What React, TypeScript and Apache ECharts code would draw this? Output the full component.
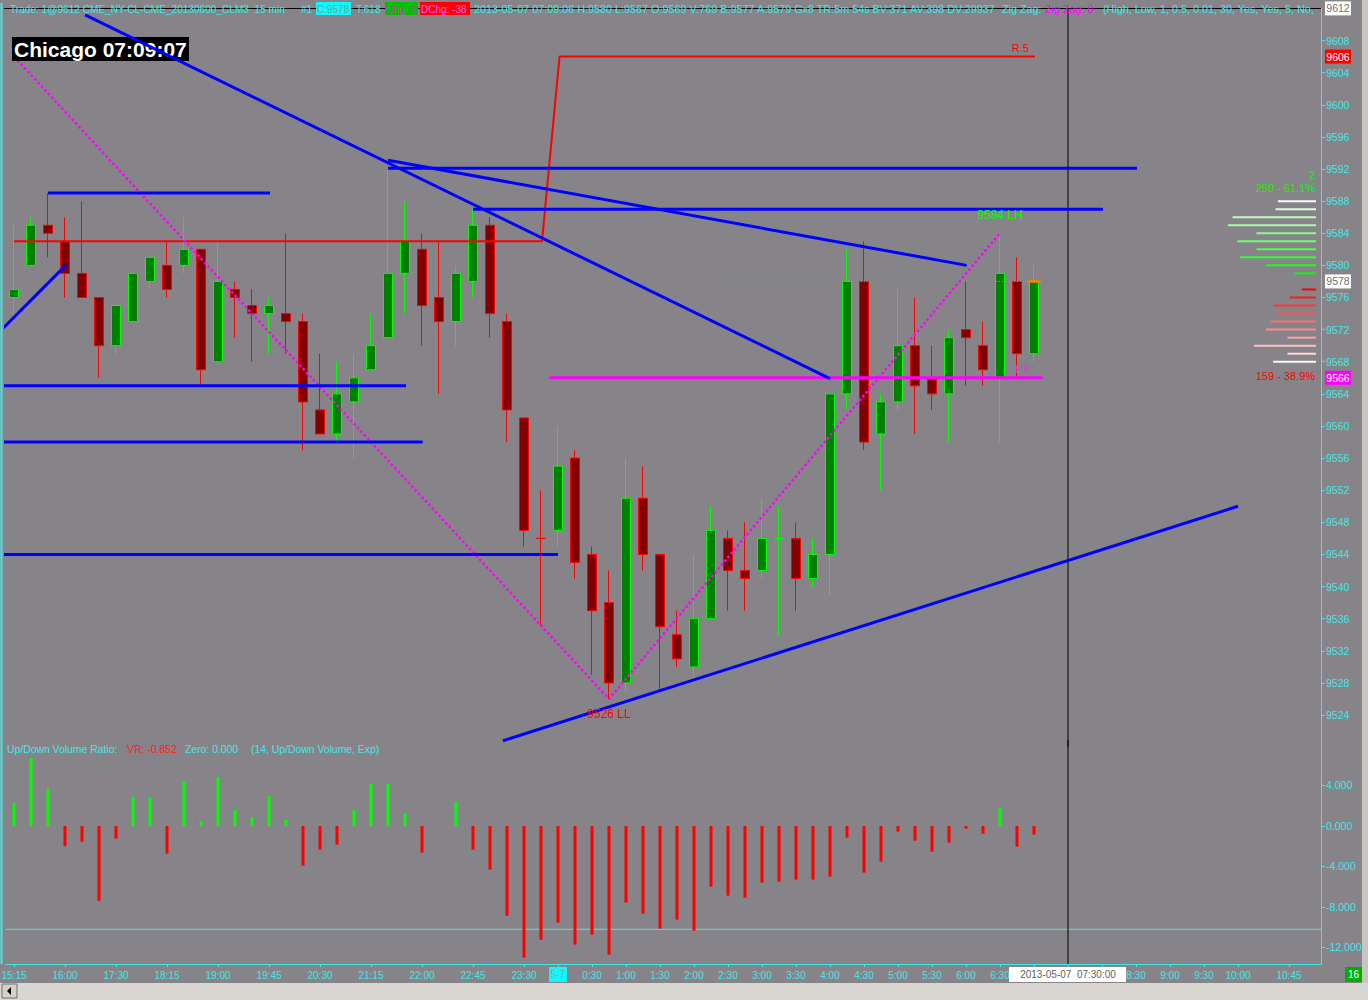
import React, { useEffect, useRef } from 'react';
import * as echarts from 'echarts';

// ---------- data ----------
const opens = [9576, 9580, 9585, 9583, 9579, 9576, 9570, 9573, 9578, 9580, 9580, 9582, 9568, 9577, 9575, 9574, 9574, 9573, 9562, 9559, 9563, 9567, 9571, 9579, 9582, 9576, 9573, 9578, 9585, 9573, 9561, 9546, 9547, 9556, 9544, 9538, 9528, 9551, 9544, 9534, 9530, 9536, 9546, 9542, 9542, 9546, 9546, 9541, 9544, 9564, 9578, 9559, 9563, 9570, 9566, 9564, 9572, 9570, 9566, 9578, 9569];
const closes = [9577, 9585, 9584, 9579, 9576, 9570, 9575, 9579, 9581, 9577, 9582, 9567, 9578, 9576, 9574, 9575, 9573, 9563, 9559, 9564, 9566, 9570, 9579, 9583, 9575, 9573, 9579, 9585, 9574, 9562, 9547, 9546, 9555, 9543, 9537, 9528, 9551, 9544, 9535, 9531, 9536, 9547, 9542, 9541, 9546, 9546, 9541, 9544, 9564, 9578, 9558, 9563, 9570, 9565, 9564, 9571, 9571, 9567, 9579, 9569, 9578];
const lows = [9573, 9580, 9581, 9576, 9576, 9566, 9569, 9573, 9577, 9576, 9579, 9565, 9568, 9571, 9568, 9569, 9569, 9557, 9559, 9558, 9556, 9567, 9571, 9574, 9570, 9564, 9570, 9576, 9571, 9558, 9545, 9535, 9545, 9541, 9529, 9526, 9527, 9542, 9527, 9530, 9528, 9536, 9537, 9537, 9541, 9534, 9537, 9540, 9539, 9562, 9557, 9552, 9562, 9559, 9562, 9558, 9565, 9565, 9558, 9566, 9568];
const highs = [9585, 9586, 9589, 9586, 9588, 9576, 9575, 9579, 9581, 9583, 9586, 9582, 9583, 9578, 9577, 9576, 9584, 9574, 9569, 9568, 9569, 9574, 9592, 9588, 9584, 9583, 9580, 9587, 9586, 9574, 9561, 9552, 9560, 9557, 9545, 9542, 9556, 9555, 9544, 9537, 9544, 9550, 9547, 9548, 9551, 9550, 9548, 9546, 9564, 9582, 9583, 9564, 9577, 9576, 9570, 9572, 9578, 9573, 9584, 9581, 9580];
const dojiColors: Record<number, string> = { 31: 'down', 45: 'up' };

const vrValues = [2.27, 6.7, 3.65, -2.0, -1.55, -7.4, -1.25, 2.86, 2.77, -2.73, 4.35, 0.5, 4.84, 1.58, 0.89, 2.96, 0.59, -3.92, -2.34, -1.84, 1.58, 4.15, 4.15, 1.19, -2.63, 0, 2.37, -2.34, -4.31, -8.86, -13.0, -11.23, -9.55, -11.72, -10.73, -12.71, -7.57, -8.66, -10.14, -9.25, -10.34, -5.99, -6.88, -7.08, -5.6, -5.5, -5.3, -5.3, -5.0, -1.15, -4.61, -3.52, -0.56, -1.45, -2.54, -1.65, -0.27, -0.76, 1.78, -2.04, -0.85];
const vrLevel = -10.2;

const tickIdx = [0, 3, 6, 9, 12, 15, 18, 21, 24, 27, 30, 32, 34, 36, 38, 40, 42, 44, 46, 48, 50, 52, 54, 56, 58, 60, 62, 64, 66, 68, 70, 72, 75];
const tickLabels = ['15:15', '16:00', '17:30', '18:15', '19:00', '19:45', '20:30', '21:15', '22:00', '22:45', '23:30', '5-7', '0:30', '1:00', '1:30', '2:00', '2:30', '3:00', '3:30', '4:00', '4:30', '5:00', '5:30', '6:00', '6:30', '7:00', '7:30', '8:00', '8:30', '9:00', '9:30', '10:00', '10:45'];
const coveredTicks = [32, 60, 62, 64];
const priceTicks = [9524, 9528, 9532, 9536, 9540, 9544, 9548, 9552, 9556, 9560, 9564, 9568, 9572, 9576, 9580, 9584, 9588, 9592, 9596, 9600, 9604, 9608];
const volTicks = [-12, -8, -4, 0, 4];

const profilePrices = [9568, 9569, 9570, 9571, 9572, 9573, 9574, 9575, 9576, 9577, 9578, 9579, 9580, 9581, 9582, 9583, 9584, 9585, 9586, 9587, 9588];
const profileVolumes = [18, 12, 26, 12, 21, 19, 16, 18, 11, 6, 0, 9, 21, 32, 25, 33, 25, 37, 35, 17, 16];
const lastPrice = 9578;

// drawings [bar index, price]
const blueLines: number[][][] = [
  [[-0.63, 9572.2], [3.04, 9580]],
  [[4.18, 9611.2], [48, 9565.9]],
  [[22, 9593.1], [56.04, 9580]],
  [[22, 9592.1], [66.06, 9592.1]],
  [[27, 9587], [64.06, 9587]],
  [[2, 9589], [15.06, 9589]],
  [[-0.63, 9565], [23.06, 9565]],
  [[-0.63, 9558], [24.04, 9558]],
  [[-0.63, 9544], [32, 9544]],
  [[28.76, 9520.8], [72, 9550]],
];
const redStep = [[0, 9583], [31.06, 9583], [32.09, 9606], [60.06, 9606]];
const ppLine = [[31.5, 9566], [60.5, 9566]];
const zigZag = [[0, 9606], [35, 9526], [58, 9584]];
const lastPriceLine = [[41, 9578], [60.5, 9578]];
const cursorIdx = 62;

const axisMarks = [
  { price: 9612, bg: '#ffffff', fg: '#707070' },
  { price: 9606, bg: '#ff0000', fg: '#ffffff' },
  { price: 9578, bg: '#ffffff', fg: '#707070' },
  { price: 9566, bg: '#ff00ff', fg: '#ffffff' },
];
const chartTexts = [
  { t: '9526 LL', x: 35, p: 9524.1, c: '#ff0000', s: 12 },
  { t: '9584 LH', x: 58, p: 9586.3, c: '#00ff00', s: 12 },
  { t: 'R.5', x: 59.2, p: 9607.1, c: '#ff0000', s: 11 },
  { t: 'PP', x: 59.35, p: 9567.1, c: '#cc44cc', s: 11 },
];
const profileTexts = [
  { t: '2', p: 9591.2, c: '#10f010' },
  { t: '250 - 61.1%', p: 9589.6, c: '#10f010' },
  { t: '159 - 38.9%', p: 9566.2, c: '#ff0000' },
];

// ---------- layout constants ----------
const BG = '#868488';
const CYAN = '#40e8e8';
const FONT = 'Liberation Sans';
const X_MIN = -0.5;
const GRID_LEFT = 5.5;
const GRID_W = 1315.5;
const BAR_PX = 17;
const X_MAX = X_MIN + GRID_W / BAR_PX;
const P_MIN = 9520;
const P_MAX = 9612;
const P_TOP = 8.4;
const P_H = 738.8;
const PPU = P_H / (P_MAX - P_MIN);
const V_TOP = 740;
const V_H = 224;
const V_MIN = -13.63;
const V_MAX = 8.49;

function mix(a: number[], b: number[], t: number) {
  const c = a.map((v, i) => Math.round(v + (b[i] - v) * t));
  return `rgb(${c[0]},${c[1]},${c[2]})`;
}

export default function App() {
  const ref = useRef<HTMLDivElement>(null);
  useEffect(() => {
    document.body.style.margin = '0';
    const chart = echarts.init(ref.current as HTMLDivElement, null, { renderer: 'svg' });

    const labelMap: Record<number, string> = {};
    tickIdx.forEach((v, i) => (labelMap[v] = tickLabels[i]));
    const labelIdx = tickIdx.filter((v) => coveredTicks.indexOf(v) < 0);

    const candleData = opens.map((o, i) => {
      const item: any = { value: [i, o, closes[i], lows[i], highs[i]] };
      if (dojiColors[i]) {
        const col = dojiColors[i] === 'up' ? '#00ff00' : '#ff0000';
        item.itemStyle = { borderColor: col, borderColor0: col, borderColorDoji: col };
      }
      return item;
    });

    const maxIdx = profilePrices.indexOf(lastPrice);
    const profileData = profileVolumes.map((v, i) => {
      let color: string;
      if (profilePrices[i] > lastPrice) {
        const k = i - maxIdx - 1;
        color = mix([0, 255, 0], [250, 250, 250], k / 9);
      } else {
        const k = maxIdx - 1 - i;
        color = mix([255, 0, 0], [255, 245, 245], k / 9);
      }
      return { value: v, itemStyle: { color } };
    });

    const lineSeries = (data: number[][], color: string, width: number, z: number, type: any = 'solid', xi = 0, yi = 0) => ({
      type: 'line',
      xAxisIndex: xi,
      yAxisIndex: yi,
      data,
      symbol: 'none',
      silent: true,
      z,
      lineStyle: { color, width, type },
    });

    const profTop = P_TOP + (P_MAX - (profilePrices[profilePrices.length - 1] + 0.5)) * PPU;
    const profH = profilePrices.length * PPU;

    const axisLabelStyle = { color: CYAN, fontFamily: FONT, fontSize: 10.5 };

    const option: any = {
      animation: false,
      backgroundColor: BG,
      grid: [
        { left: GRID_LEFT, top: P_TOP, width: GRID_W, height: P_H, outerBoundsMode: 'none' },
        { left: GRID_LEFT, top: V_TOP, width: GRID_W, height: V_H, outerBoundsMode: 'none' },
        { left: 1200, top: profTop, width: 116, height: profH, outerBoundsMode: 'none' },
      ],
      xAxis: [
        { gridIndex: 0, type: 'value', min: X_MIN, max: X_MAX, show: false, splitLine: { show: false } },
        {
          gridIndex: 1, type: 'value', min: X_MIN, max: X_MAX, position: 'bottom',
          splitLine: { show: false },
          axisLine: { show: true, onZero: false, lineStyle: { color: CYAN, width: 1 } },
          axisTick: { show: true, customValues: tickIdx, length: 3, lineStyle: { color: CYAN } },
          axisLabel: {
            show: true, customValues: labelIdx, margin: 6, color: CYAN, fontFamily: FONT, fontSize: 10,
            formatter: (v: number) => labelMap[Math.round(v)] ?? '',
          },
        },
        { gridIndex: 2, type: 'value', min: 0, max: 48.7, inverse: true, show: false, splitLine: { show: false } },
      ],
      yAxis: [
        {
          gridIndex: 0, type: 'value', min: P_MIN, max: P_MAX, position: 'right',
          splitLine: { show: false },
          axisLine: { show: true, onZero: false, lineStyle: { color: CYAN, width: 1 } },
          axisTick: { show: true, customValues: priceTicks, length: 4, lineStyle: { color: CYAN } },
          axisLabel: { show: true, customValues: priceTicks, margin: 5, ...axisLabelStyle, formatter: (v: number) => String(v) },
        },
        {
          gridIndex: 1, type: 'value', min: V_MIN, max: V_MAX, position: 'right',
          splitLine: { show: false },
          axisLine: { show: true, onZero: false, lineStyle: { color: CYAN, width: 1 } },
          axisTick: { show: true, customValues: volTicks, length: 4, lineStyle: { color: CYAN } },
          axisLabel: { show: true, customValues: volTicks, margin: 5, ...axisLabelStyle, formatter: (v: number) => v.toFixed(3) },
        },
        { gridIndex: 2, type: 'category', data: profilePrices.map(String), show: false },
      ],
      series: [
        {
          type: 'candlestick',
          xAxisIndex: 0, yAxisIndex: 0,
          encode: { x: 0, y: [1, 2, 3, 4] },
          data: candleData,
          barWidth: 10,
          z: 2,
          silent: true,
          itemStyle: { color: '#008000', color0: '#800000', borderColor: '#00ff00', borderColor0: '#ff0000', borderWidth: 1 },
        },
        {
          type: 'bar', xAxisIndex: 1, yAxisIndex: 1, barWidth: 3, silent: true,
          data: vrValues.map((v, i) => [i, v]),
          itemStyle: { color: (p: any) => (p.value[1] >= 0 ? '#00ff00' : '#ff0000') },
        },
        {
          type: 'bar', xAxisIndex: 2, yAxisIndex: 2, barWidth: 2, silent: true, data: profileData,
        },
        lineSeries([[X_MIN, vrLevel], [X_MAX, vrLevel]], '#60e0e8', 1, 1, 'solid', 1, 1),
        lineSeries([[cursorIdx, V_MIN], [cursorIdx, V_MAX]], '#000000', 1, 3, 'solid', 1, 1),
        lineSeries([[cursorIdx, P_MIN], [cursorIdx, P_MAX]], '#000000', 1, 3),
        lineSeries(lastPriceLine, '#30d030', 1, 3, [1, 2]),
        lineSeries(redStep, '#ff0000', 2, 3),
        lineSeries(ppLine, '#ff00ff', 3, 3),
        lineSeries(zigZag, '#ff00ff', 2.5, 3, [2.5, 2.5]),
        ...blueLines.map((l) => lineSeries(l, '#0000ff', 3, 5)),
        {
          type: 'scatter', xAxisIndex: 0, yAxisIndex: 0, symbol: 'rect', symbolSize: [13, 3], silent: true, z: 6,
          data: [[opens.length - 1, closes[closes.length - 1]]],
          itemStyle: { color: '#ff8000' },
        },
      ],
    };
    chart.setOption(option);

    const P = (x: number, y: number) => chart.convertToPixel({ gridIndex: 0 }, [x, y]) as number[];
    const txt = (x: number, y: number, text: string, fill: string, font: string, align = 'left', z = 10) => ({
      type: 'text', x, y, z,
      style: { text, fill, font, align, verticalAlign: 'middle', textAlign: align, textVerticalAlign: 'middle' },
    });
    const g: any[] = [];

    // frame lines
    g.push({ type: 'line', shape: { x1: 4, y1: 8.5, x2: 1321, y2: 8.5 }, style: { stroke: '#000000', lineWidth: 1 }, z: 1 });
    g.push({ type: 'line', shape: { x1: 1.5, y1: 3, x2: 1.5, y2: 964 }, style: { stroke: CYAN, lineWidth: 2 }, z: 1 });
    g.push({ type: 'rect', shape: { x: 1362, y: 0, width: 6, height: 983 }, style: { fill: '#c8c4c0' }, z: 1 });
    g.push({ type: 'rect', shape: { x: 0, y: 983, width: 1368, height: 17 }, style: { fill: '#d9d6d1' }, z: 1 });
    g.push({ type: 'rect', shape: { x: 2, y: 984, width: 15, height: 14 }, style: { fill: '#d4d0c8', stroke: '#707070', lineWidth: 1 }, z: 2 });
    g.push({ type: 'polygon', shape: { points: [[7, 991], [11, 987], [11, 995]] }, style: { fill: '#000000' }, z: 3 });

    // header
    const hf = `10.8px ${FONT}`;
    const h1 = `10.1px ${FONT}`;
    const hb = `10px ${FONT}`;
    g.push({ type: 'rect', shape: { x: 316, y: 2, width: 35, height: 13 }, style: { fill: '#00ffff' }, z: 20 });
    g.push({ type: 'rect', shape: { x: 385, y: 2, width: 33, height: 13 }, style: { fill: '#00c000' }, z: 20 });
    g.push({ type: 'rect', shape: { x: 420, y: 2, width: 50, height: 13 }, style: { fill: '#ff0000' }, z: 20 });
    g.push(txt(10, 9, 'Trade: 1@9612 CME_NY-CL-CME_20130600_CLM3  15 min', CYAN, h1, 'left', 21));
    g.push(txt(301, 9, '#1', CYAN, hb, 'left', 21));
    g.push(txt(317, 9, 'C:9578', '#909090', hb, 'left', 21));
    g.push(txt(356, 9, 'T:618', CYAN, hb, 'left', 21));
    g.push(txt(386, 9, 'Chg: -9', '#c040c0', hb, 'left', 21));
    g.push(txt(421, 9, 'DChg: -38', '#ff60ff', hb, 'left', 21));
    g.push(txt(474, 9, '2013-05-07 07:09:06 H:9580 L:9567 O:9569 V:769 B:9577 A:9579 Gx8 TR:5m 54s BV:371 AV:398 DV:29937', CYAN, hf, 'left', 21));
    g.push(txt(1002, 9, 'Zig Zag:', CYAN, hf, 'left', 21));
    g.push(txt(1045, 9, 'Zig Zag: 0', '#ff00ff', hf, 'left', 21));
    g.push(txt(1103, 9, '(High, Low, 1, 0.5, 0.01, 30, Yes, Yes, 5, No,', CYAN, hf, 'left', 21));

    // Chicago clock
    g.push({ type: 'rect', shape: { x: 12, y: 37, width: 177, height: 24 }, style: { fill: '#000000' }, z: 4 });
    g.push(txt(14, 49.5, 'Chicago 07:09:07', '#ffffff', `bold 21px ${FONT}`, 'left', 4));

    // volume panel title
    const vf = `10.4px ${FONT}`;
    g.push(txt(7, 749, 'Up/Down Volume Ratio:', CYAN, vf));
    g.push(txt(127, 749, 'VR: -0.852', '#ff2020', vf));
    g.push(txt(185, 749, 'Zero: 0.000', CYAN, vf));
    g.push(txt(251, 749, '(14, Up/Down Volume, Exp)', CYAN, vf));

    // axis value boxes
    axisMarks.forEach((m) => {
      const y = P(0, m.price)[1];
      g.push({ type: 'rect', shape: { x: 1325, y: y - 7, width: 26, height: 14 }, style: { fill: m.bg }, z: 50 });
      g.push(txt(1338, y, String(m.price), m.fg, `10.5px ${FONT}`, 'center', 51));
    });

    // chart annotations
    chartTexts.forEach((t) => {
      const [x, y] = P(t.x, t.p);
      g.push(txt(x, y, t.t, t.c, `${t.s}px ${FONT}`, 'center', 8));
    });
    const profRight = chart.convertToPixel({ xAxisIndex: 2 }, 0.4) as number;
    profileTexts.forEach((t) => {
      const y = P(0, t.p)[1];
      g.push(txt(profRight, y, t.t, t.c, `11px ${FONT}`, 'right', 8));
    });

    // x-axis boxes
    const x57 = P(32, P_MIN)[0];
    g.push({ type: 'rect', shape: { x: x57 - 9, y: 967, width: 18, height: 15 }, style: { fill: '#00ffff' }, z: 100 });
    g.push(txt(x57, 974.5, tickLabels[tickIdx.indexOf(32)], '#a0a0a0', `10px ${FONT}`, 'center', 101));
    const xc = P(cursorIdx, P_MIN)[0];
    g.push({ type: 'rect', shape: { x: xc - 59, y: 967, width: 117, height: 15 }, style: { fill: '#ffffff' }, z: 100 });
    g.push(txt(xc, 974.5, '2013-05-07  07:30:00', '#606060', `10px ${FONT}`, 'center', 101));
    g.push({ type: 'rect', shape: { x: 1345, y: 967, width: 17, height: 15 }, style: { fill: '#00b000' }, z: 100 });
    g.push(txt(1353.5, 974.5, '16', '#ffffff', `10px ${FONT}`, 'center', 101));

    chart.setOption({ graphic: g });

    return () => chart.dispose();
  }, []);

  return (
    <div
      ref={ref}
      style={{ position: 'fixed', left: 0, top: 0, width: 1368, height: 1000, background: BG }}
    />
  );
}
